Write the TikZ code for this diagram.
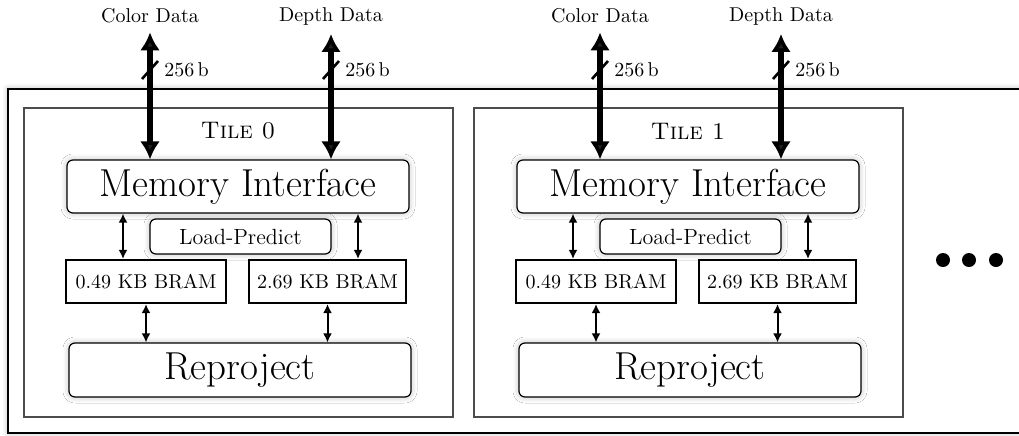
\documentclass[tikz,border=0pt]{standalone}
\usetikzlibrary{arrows.meta, shadows.blur}

\begin{document}
\begin{tikzpicture}[
    x = 0.5pt, y = -0.5pt,
    glow/.style = {blur shadow = {shadow xshift = 0pt, shadow yshift = 0pt,
      shadow blur radius = 3pt, shadow blur steps = 12, shadow opacity = 25}},
    unit/.style = {draw, fill = white, rounded corners = 3pt,
      line width = 0.6pt, inner sep = 0pt, glow},
    bram/.style = {draw, fill = white, line width = 1.1pt, inner sep = 0pt,
      minimum height = 21.5pt},
    tilebox/.style = {draw = black!70, fill = white, line width = 0.8pt},
    bus/.style = {{Latex[length = 9pt, width = 10pt]}-{Latex[length = 9pt, width = 10pt]},
      line width = 2.8pt},
    link/.style = {{Latex[length = 4.5pt, width = 4.5pt]}-{Latex[length = 4.5pt, width = 4.5pt]},
      line width = 1pt},
    big/.style = {font = \fontsize{19.5}{23}\selectfont},
  ]
      \path [use as bounding box] (0, 0) rectangle (1019, 435);
      \clip (0, 0) rectangle (1019, 435);

      % fpga
      % ----
      \draw [line width = 1.2pt, fill = white, glow]
        (8, 89) rectangle (1040, 433)
      ;

      % tiles
      % -----
      \foreach \t in {0, 1} {
        \begin{scope}[xshift = \t * 225pt]
          \draw [tilebox] (24, 108) rectangle (453, 417);
          \node (tile\t) at (238, 131) {\large\textsc{Tile \t}};

          \node [unit, big, minimum width = 171pt, minimum height = 26.5pt]
            (mi\t) at (238, 186.5) {Memory Interface};
          \node [unit, minimum width = 90.5pt, minimum height = 17.5pt]
            (lp\t) at (240.5, 236.5) {\fontsize{11}{13}\selectfont Load-Predict};
          \node [bram, minimum width = 80pt] (b\t) at (146, 281.5) {0.49 KB BRAM};
          \node [bram, minimum width = 78.5pt] (c\t) at (327.5, 281.5) {2.69 KB BRAM};
          \node [unit, big, minimum width = 171pt, minimum height = 27pt]
            (rp\t) at (240, 370) {Reproject};

          \coordinate (l\t) at (123, 240);
          \coordinate (r\t) at (358, 240);
          \draw [link] (l\t |- mi\t.south) -- (l\t |- b\t.north);
          \draw [link] (r\t |- mi\t.south) -- (r\t |- c\t.north);
          \draw [link] (b\t.south) -- (b\t.south |- rp\t.north);
          \draw [link] (c\t.south) -- (c\t.south |- rp\t.north);

          % external buses
          \node (cd\t) at (150, 16) {Color Data};
          \node (dd\t) at (331, 16) {Depth Data};
          \draw [bus, shorten < = 1pt] (cd\t.south) -- (cd\t.south |- mi\t.north);
          \draw [bus, shorten < = 1pt] (dd\t.south) -- (dd\t.south |- mi\t.north);

          \coordinate (sc\t) at (150, 70);
          \coordinate (sd\t) at (331, 70);
          \draw [line width = 1.3pt] ([shift = {(-8, 9)}]sc\t) -- ([shift = {(8, -9)}]sc\t);
          \draw [line width = 1.3pt] ([shift = {(-8, 9)}]sd\t) -- ([shift = {(8, -9)}]sd\t);
          \node [anchor = west, inner sep = 0pt] (wc\t) at (164, 70) {256\,b};
          \node [anchor = west, inner sep = 0pt] (wd\t) at (345, 70) {256\,b};
        \end{scope}
      }

      % more tiles
      % ----------
      \fill (943, 260) circle (3.5pt);
      \fill (969, 260) circle (3.5pt);
      \fill (996, 260) circle (3.5pt);
\end{tikzpicture}
\end{document}
